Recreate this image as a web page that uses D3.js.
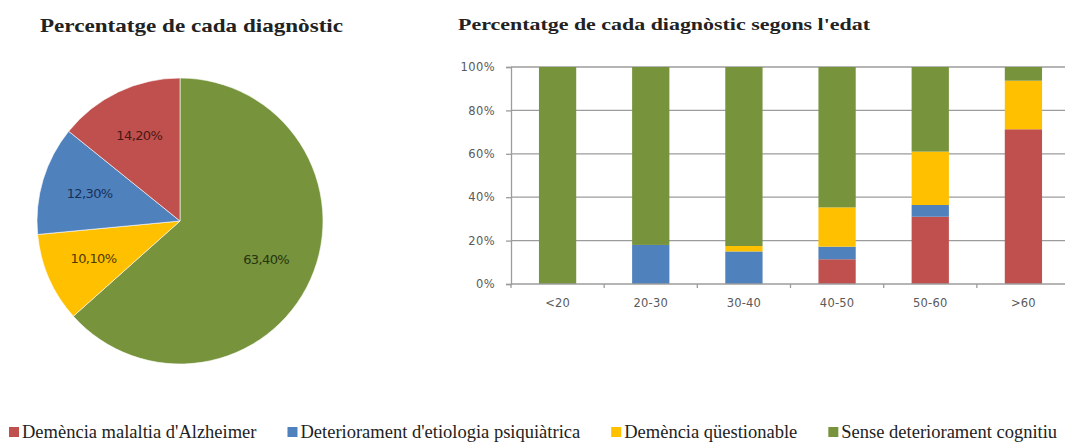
<!DOCTYPE html>
<html>
<head>
<meta charset="utf-8">
<script src="https://cdn.jsdelivr.net/npm/d3@7"></script>
<style>
  html, body { margin: 0; padding: 0; background: #ffffff; }
  svg { display: block; }
</style>
</head>
<body>
<svg id="chart" width="1065" height="442"></svg>
<script>
// ---------- data ----------
const seriesNames = ["Demència malaltia d'Alzheimer", "Deteriorament d'etiologia psiquiàtrica", "Demència qüestionable", "Sense deteriorament cognitiu"];
const seriesColors = ["#C0504D", "#4F81BD", "#FFC000", "#77933C"];
const labelColors = ["#4a1715", "#17305a", "#4d3a00", "#26330f"];
const pieValues = [14.2, 12.3, 10.1, 63.4];
const pieLabels = ["14,20%", "12,30%", "10,10%", "63,40%"];

const ageGroups = ["<20", "20-30", "30-40", "40-50", "50-60", ">60"];
const alzheimer  = [0, 0, 0, 11.4, 31.0, 71.3];
const psiquiatric = [0, 18.0, 15.0, 5.8, 5.4, 0];
const questionable = [0, 0, 2.5, 18.1, 24.6, 22.4];
const senseDeter = [100, 82.0, 82.5, 64.7, 39.0, 6.3];
const yTicks = [0, 20, 40, 60, 80, 100];
const yTickLabels = ["0%", "20%", "40%", "60%", "80%", "100%"];

const titlePie = "Percentatge de cada diagnòstic";
const titleBar = "Percentatge de cada diagnòstic segons l'edat";

// ---------- setup ----------
const svg = d3.select("#chart");
const serif = "'Liberation Serif', 'DejaVu Serif', serif";
const sans = "'DejaVu Sans', 'Liberation Sans', sans-serif";

// ---------- pie ----------
const pieG = svg.append("g").attr("transform", "translate(180,221)");
const radius = 143;
const pieOrder = [3, 2, 1, 0]; // clockwise from 12 o'clock: green, yellow, blue, red
const pieData = pieOrder.map(i => ({ i, v: pieValues[i] }));
const pie = d3.pie().sort(null).value(d => d.v);
const arc = d3.arc().innerRadius(0).outerRadius(radius);
const labelArc = d3.arc().innerRadius(radius * 0.66).outerRadius(radius * 0.66);
const arcs = pie(pieData);
pieG.selectAll("path.slice").data(arcs).enter().append("path")
  .attr("class", "slice")
  .attr("d", arc)
  .attr("fill", d => seriesColors[d.data.i])
  .attr("stroke", "#ffffff")
  .attr("stroke-width", 0.6);
pieG.selectAll("text.plabel").data(arcs).enter().append("text")
  .attr("class", "plabel")
  .attr("transform", d => { const c = labelArc.centroid(d); return `translate(${c[0]},${c[1]})`; })
  .attr("text-anchor", "middle")
  .attr("dominant-baseline", "central")
  .attr("font-family", sans)
  .attr("font-size", 13)
  .attr("letter-spacing", -0.6)
  .attr("fill", d => labelColors[d.data.i])
  .text(d => pieLabels[d.data.i]);

svg.append("text")
  .attr("x", 40).attr("y", 32)
  .attr("font-family", serif).attr("font-weight", "bold")
  .attr("font-size", 19)
  .attr("fill", "#222")
  .attr("textLength", 303).attr("lengthAdjust", "spacingAndGlyphs")
  .text(titlePie);

// ---------- stacked bar ----------
svg.append("text")
  .attr("x", 458).attr("y", 30)
  .attr("font-family", serif).attr("font-weight", "bold")
  .attr("font-size", 17)
  .attr("fill", "#222")
  .attr("textLength", 412).attr("lengthAdjust", "spacingAndGlyphs")
  .text(titleBar);

const x0 = 511, x1 = 1070, yTop = 67, yBot = 284;
const x = d3.scaleBand().domain(ageGroups).range([x0, x1]).paddingInner(0.6).paddingOuter(0.3);
const step = x.step();
const y = d3.scaleLinear().domain([0, 100]).range([yBot, yTop]);

const gridColor = "#9c9c9c";
// gridlines
svg.append("g").selectAll("line").data(yTicks.filter(t => t > 0)).enter().append("line")
  .attr("x1", x0).attr("x2", x1)
  .attr("y1", d => y(d)).attr("y2", d => y(d))
  .attr("stroke", gridColor).attr("stroke-width", 1.3);

// y axis
const yAxis = d3.axisLeft(y).tickValues(yTicks).tickSize(5).tickFormat((d, i) => yTickLabels[i]);
const yg = svg.append("g").attr("transform", `translate(${x0},0)`).call(yAxis);
yg.select(".domain").attr("stroke", gridColor).attr("stroke-width", 1.3);
yg.selectAll(".tick line").attr("stroke", gridColor).attr("stroke-width", 1.3);
yg.selectAll(".tick text")
  .attr("x", -16)
  .attr("font-family", sans).attr("font-size", 11.5)
  .attr("letter-spacing", 0.4)
  .attr("fill", "#5a5a5a");

// stacked series
const rows = ageGroups.map((g, j) => ({ g, s0: alzheimer[j], s1: psiquiatric[j], s2: questionable[j], s3: senseDeter[j] }));
const stack = d3.stack().keys(["s0", "s1", "s2", "s3"]);
const stacked = stack(rows);
const barG = svg.append("g");
stacked.forEach((layer, k) => {
  barG.append("g").attr("fill", seriesColors[k])
    .selectAll("rect").data(layer.filter(d => d[1] - d[0] > 0)).enter().append("rect")
    .attr("x", d => x(d.data.g))
    .attr("width", x.bandwidth())
    .attr("y", d => y(d[1]))
    .attr("height", d => y(d[0]) - y(d[1]));
});

// x axis
const xg = svg.append("g").attr("transform", `translate(0,${yBot})`);
xg.append("line").attr("x1", x0).attr("x2", x1).attr("y1", 0).attr("y2", 0)
  .attr("stroke", gridColor).attr("stroke-width", 1.3);
xg.selectAll("line.tk").data(ageGroups).enter().append("line")
  .attr("class", "tk")
  .attr("x1", d => x(d) - step * 0.3).attr("x2", d => x(d) - step * 0.3)
  .attr("y1", 0).attr("y2", 4)
  .attr("stroke", gridColor).attr("stroke-width", 1.3);
xg.selectAll("text").data(ageGroups).enter().append("text")
  .attr("x", d => x(d) + x.bandwidth() / 2)
  .attr("y", 23)
  .attr("text-anchor", "middle")
  .attr("font-family", sans).attr("font-size", 11.5)
  .attr("letter-spacing", 0.2)
  .attr("fill", "#5a5a5a")
  .text(d => d);

// ---------- legend ----------
const legG = svg.append("g").attr("transform", "translate(0,438)");
let lx = 9;
const legGap = 31;
seriesNames.forEach((name, k) => {
  const item = legG.append("g").attr("transform", `translate(${lx},0)`);
  item.append("rect").attr("x", 0).attr("y", -11).attr("width", 10).attr("height", 10)
    .attr("fill", seriesColors[k]);
  const t = item.append("text").attr("x", 13).attr("y", 0)
    .attr("font-family", serif).attr("font-size", 18.5)
    .attr("fill", "#222")
    .text(name);
  lx += 13 + t.node().getComputedTextLength() + legGap;
});
</script>
</body>
</html>
